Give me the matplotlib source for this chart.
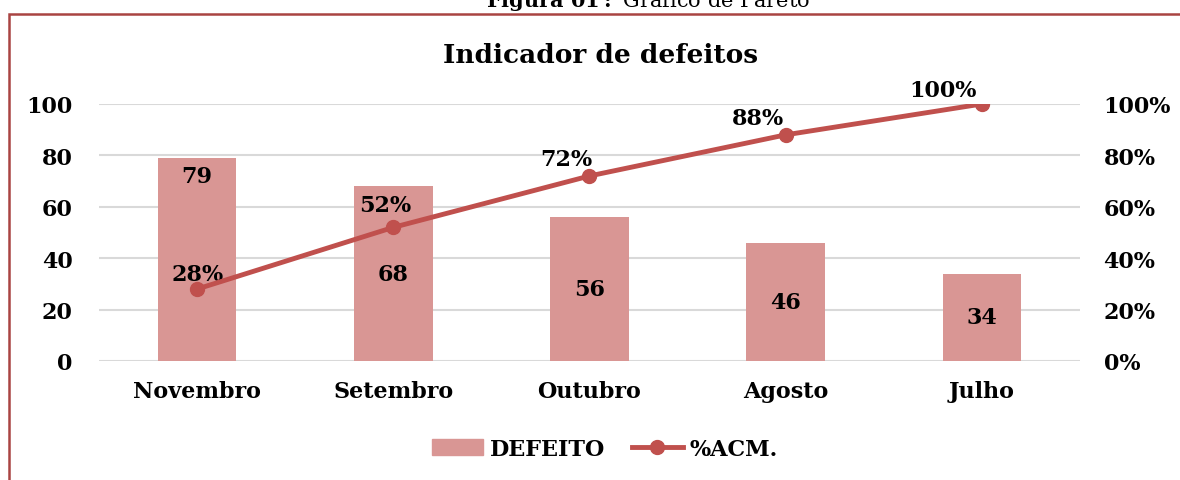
import matplotlib
matplotlib.use("Agg")
import matplotlib.pyplot as plt
from matplotlib.patches import Rectangle
from matplotlib.lines import Line2D
from matplotlib.patches import Patch
from matplotlib.ticker import FuncFormatter

categories = ["Novembro", "Setembro", "Outubro", "Agosto", "Julho"]
defeitos = [79, 68, 56, 46, 34]
acumulado = [28, 52, 72, 88, 100]
left_ticks = [0, 20, 40, 60, 80, 100]
right_ticks = [0, 20, 40, 60, 80, 100]

BAR = "#D99694"
LINE = "#C0504D"
FRAME = "#A94442"
GRID = "#D9D9D9"
FONT = ["DejaVu Serif"]
FS = 16

plt.rcParams["font.family"] = FONT
plt.rcParams["font.weight"] = "bold"
plt.rcParams["mathtext.fontset"] = "dejavuserif"

fig = plt.figure(figsize=(11.8, 4.81), dpi=100)
ax = fig.add_axes([99/1180, 1-362/481, (1080-99)/1180, (362-105)/481])

x = list(range(len(categories)))
ax.bar(x, defeitos, width=0.4, color=BAR, zorder=2)
ax.set_xlim(-0.5, len(categories)-0.5)
ax.set_ylim(0, 100)
ax.set_yticks(left_ticks)
ax.yaxis.grid(True, color=GRID, lw=1.5, zorder=0)
ax.set_axisbelow(True)
for s in ax.spines.values():
    s.set_visible(False)
ax.tick_params(axis="both", length=0, labelsize=FS)
ax.tick_params(axis="y", pad=19)
ax.tick_params(axis="x", pad=14)
ax.set_xticks(x)
ax.set_xticklabels(categories, fontweight="bold")
for lab in ax.get_yticklabels():
    lab.set_fontweight("bold")

for i, v in enumerate(defeitos):
    yy = v - 7 if i == 0 else v / 2
    ax.text(i, yy, str(v), ha="center", va="center", fontsize=FS, fontweight="bold", zorder=5)

ax2 = ax.twinx()
ax2.set_ylim(0, 100)
ax2.set_yticks(right_ticks)
ax2.yaxis.set_major_formatter(FuncFormatter(lambda v, p: f"{int(v)}%"))
for s in ax2.spines.values():
    s.set_visible(False)
ax2.tick_params(axis="y", length=0, labelsize=FS, pad=17)
for lab in ax2.get_yticklabels():
    lab.set_fontweight("bold")
ax2.plot(x, acumulado, color=LINE, lw=3.5, marker="o", markersize=10, zorder=4)
offsets = [(0, 11), (-6, 16), (-17, 12), (-20, 12), (-28, 10)]
for i, v in enumerate(acumulado):
    ax2.annotate(f"{v}%", (i, v), xytext=offsets[i], textcoords="offset points",
                 ha="center", va="center", fontsize=FS, fontweight="bold")

ax.set_title("Indicador de defeitos", fontsize=19, fontweight="bold", pad=30,
             x=(601-99)/981)

handles = [Patch(color=BAR, label="DEFEITO"),
           Line2D([0], [0], color=LINE, lw=3.5, marker="o", markersize=10, label="%ACM.")]
fig.legend(handles=handles, loc="center", bbox_to_anchor=(605/1180, 1-450/481), ncol=2,
           frameon=False, prop={"size": FS, "weight": "bold"}, handlelength=2.3,
           columnspacing=1.2, handletextpad=0.3)

fig.add_artist(Rectangle((9/1180, -0.1), 1.2, 1-15/481+0.1, transform=fig.transFigure,
                         fill=False, edgecolor=FRAME, lw=1.8))
fig.text(648/1180, 1-7/481, r"$\bf{Figura\ 01:}$ Gráfico de Pareto", ha="center", va="baseline",
         fontsize=15, fontweight="normal")

fig.savefig("out.png", dpi=100)
